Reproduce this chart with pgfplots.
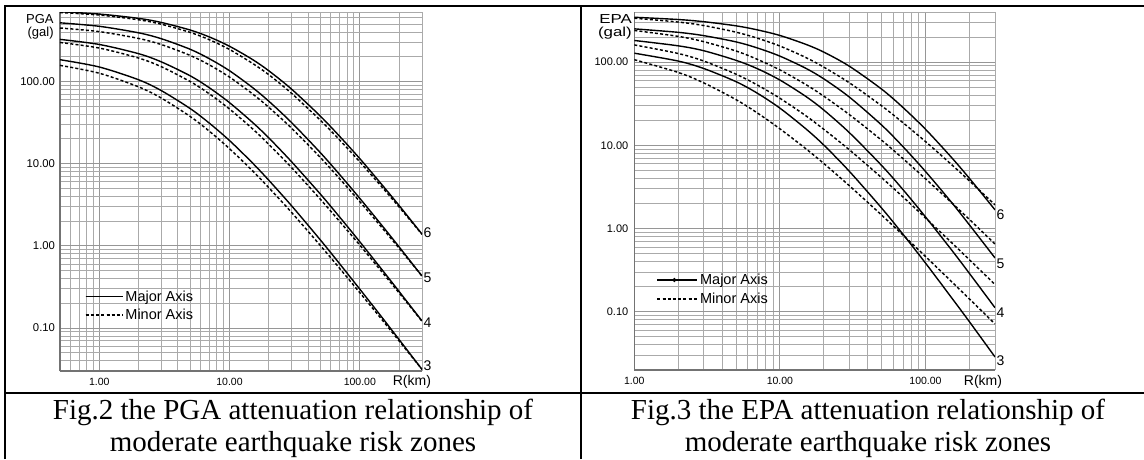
\documentclass[border=0pt]{standalone}
\usepackage{fontspec}
\setmainfont{Liberation Serif}
\newfontfamily\arialf{Liberation Sans}
\usepackage{pgfplots}
\usepackage{pgfplotstable}
\pgfplotsset{compat=1.18}
\definecolor{gridmaj}{RGB}{150,150,150}
\definecolor{gridmin}{RGB}{170,170,170}
\definecolor{axl}{RGB}{115,115,115}

\pgfplotstableread{
R s6 d6 s5 d5 s4 d4 s3 d3
0.5 705 690 517 447 325 298 184 157
1 661 643 469 404 282 255 150 126
2 586 563 391 334 218 193 105 86.1
3 522 497 331 281 173 151 77.3 62.7
5 422 395 246 207 117 99.6 46.7 37.4
7 348 322 189 159 83.8 70.7 31.1 24.8
10 268 245 135 113 55.2 46.2 19.1 15.2
15 185 166 84.4 70.7 31.8 26.6 10.2 8.20
20 135 121 57.6 48.5 20.6 17.2 6.29 5.11
30 80.4 71.4 31.5 26.9 10.5 8.92 3.06 2.54
50 37.6 33.5 13.5 11.8 4.23 3.66 1.17 1.00
70 21.5 19.4 7.37 6.56 2.24 1.98 0.605 0.532
100 11.5 10.5 3.78 3.45 1.12 1.02 0.297 0.269
150 5.39 5.06 1.72 1.62 0.499 0.468 0.131 0.123
200 3.10 2.97 0.973 0.938 0.279 0.268 0.0725 0.0698
300 1.39 1.38 0.429 0.429 0.122 0.121 0.0314 0.0314
}\pgatab

\pgfplotstableread{
R s6 d6 s5 d5 s4 d4 s3 d3
1 346 337 251 240 182 161 128 107
2 325 303 228 204 157 127 103 75.2
3 306 275 208 176 137 103 83.8 56.3
5 273 229 175 136 105 71.6 58.2 35.4
7 244 194 148 108 83.4 53.1 42.3 24.5
10 209 156 118 80.6 60.9 36.8 28.0 15.8
15 164 114 84.6 54.0 38.9 22.8 15.9 9.17
20 132 87.1 63.0 39.0 26.6 15.6 10.1 6.06
30 89.2 56.4 38.0 23.4 14.2 8.84 4.87 3.27
50 47.3 29.8 17.5 11.5 5.72 4.08 1.76 1.45
70 28.5 18.7 9.65 6.93 2.94 2.40 0.855 0.838
100 15.6 11.1 4.85 3.97 1.38 1.34 0.385 0.462
150 7.23 5.93 2.09 2.07 0.562 0.686 0.150 0.233
200 4.02 3.75 1.11 1.29 0.290 0.423 0.0762 0.143
300 1.68 1.93 0.444 0.653 0.112 0.213 0.0287 0.0715
}\epatab

\tikzset{
  maj/.style={black, line width=1.4pt, smooth},
  mnr/.style={black, line width=1.45pt, dash pattern=on 3pt off 2.2pt, smooth},
  lab/.style={anchor=west, inner sep=1.5pt, font=\arialf\fontsize{14}{16}\selectfont},
}

\begin{document}
\begin{tikzpicture}
\useasboundingbox (0pt,0pt) rectangle (1144pt,459pt);

% ---------- left panel: PGA ----------
\begin{axis}[
  scale only axis, clip mode=individual,
  xmode=log, ymode=log,
  at={(60pt,88pt)}, anchor=south west,
  width=362pt, height=359pt,
  xmin=0.5, xmax=300, ymin=0.03, ymax=700,
  axis x line*=bottom, axis y line*=left,
  axis line style={-, draw=axl, line width=1.2pt},
  grid=both,
  major grid style={draw=gridmaj, line width=0.9pt},
  minor grid style={draw=gridmin, line width=0.9pt},
  major tick length=0pt, minor tick length=0pt,
  yticklabel style={font=\arialf\fontsize{11.3}{12}\selectfont, xshift=-1.5pt},
  xticklabel style={font=\arialf\fontsize{10.5}{12}\selectfont, yshift=-3.5pt},
  ytick={0.1,1,10,100}, yticklabels={0.10,1.00,10.00,100.00},
  xtick={1,10,100}, xticklabels={1.00,10.00,100.00},
  minor xtick={0.5,0.6,0.7,0.8,0.9,2,3,4,5,6,7,8,9,20,30,40,50,60,70,80,90,200,300},
  minor ytick={0.03,0.04,0.05,0.06,0.07,0.08,0.09,0.2,0.3,0.4,0.5,0.6,0.7,0.8,0.9,2,3,4,5,6,7,8,9,20,30,40,50,60,70,80,90,200,300,400,500,600,700},
  legend style={draw=none, fill=none, inner sep=0pt, outer sep=0pt,
    font=\arialf\fontsize{14.5}{16}\selectfont, row sep=2.5pt,
    at={(axis description cs:0.069,0.2296)}, anchor=north west},
  legend cell align=left,
  legend image code/.code={\draw[#1] (0pt,0pt) -- (32pt,0pt); \path (0pt,0pt) -- (37pt,0pt);},
]
\addplot[maj] table[x=R,y=s6] {\pgatab}; \addlegendentry{Major Axis}
\addplot[mnr] table[x=R,y=d6] {\pgatab}; \addlegendentry{Minor Axis}
\addplot[maj, forget plot] table[x=R,y=s5] {\pgatab};
\addplot[mnr, forget plot] table[x=R,y=d5] {\pgatab};
\addplot[maj, forget plot] table[x=R,y=s4] {\pgatab};
\addplot[mnr, forget plot] table[x=R,y=d4] {\pgatab};
\addplot[maj, forget plot] table[x=R,y=s3] {\pgatab};
\addplot[mnr, forget plot] table[x=R,y=d3] {\pgatab};
\node[lab] at (axis cs:300,1.43) {6};
\node[lab] at (axis cs:300,0.406) {5};
\node[lab] at (axis cs:300,0.115) {4};
\node[lab] at (axis cs:300,0.0351) {3};
\node[anchor=north east, align=right, inner sep=0pt, font=\arialf\fontsize{13}{12.5}\selectfont]
  at (axis description cs:-0.017,0.993) {PGA\\(gal)};
\node[font=\arialf\fontsize{14}{16}\selectfont] at (axis description cs:0.972,-0.031) {R(km)};
\end{axis}

% ---------- right panel: EPA ----------
\begin{axis}[
  scale only axis, clip mode=individual,
  xmode=log, ymode=log,
  at={(634.3pt,89pt)}, anchor=south west,
  width=360.7pt, height=358pt,
  xmin=1, xmax=300, ymin=0.02, ymax=400,
  axis x line*=bottom, axis y line*=left,
  axis line style={-, draw=axl, line width=1.2pt},
  grid=both,
  major grid style={draw=gridmaj, line width=0.9pt},
  minor grid style={draw=gridmin, line width=0.9pt},
  major tick length=0pt, minor tick length=0pt,
  yticklabel style={font=\arialf\fontsize{11}{12}\selectfont, xshift=-2.5pt},
  xticklabel style={font=\arialf\fontsize{10.5}{12}\selectfont, yshift=-3.5pt},
  ytick={0.1,1,10,100}, yticklabels={0.10,1.00,10.00,100.00},
  xtick={1,10,100}, xticklabels={1.00,10.00,100.00},
  minor xtick={2,3,4,5,6,7,8,9,20,30,40,50,60,70,80,90,200,300},
  minor ytick={0.02,0.03,0.04,0.05,0.06,0.07,0.08,0.09,0.2,0.3,0.4,0.5,0.6,0.7,0.8,0.9,2,3,4,5,6,7,8,9,20,30,40,50,60,70,80,90,200,300,400},
  legend style={draw=none, fill=none, inner sep=0pt, outer sep=0pt,
    font=\arialf\fontsize{14.5}{16}\selectfont, row sep=3pt,
    at={(axis description cs:0.062,0.2738)}, anchor=north west},
  legend cell align=left,
  legend image code/.code={\draw[#1] (0pt,0pt) -- (34pt,0pt); \path (0pt,0pt) -- (40pt,0pt);},
]
\addplot[maj, legend image code/.code={\draw[black, line width=1.4pt] (0pt,0pt) -- (34pt,0pt); \fill[black] (17pt,0pt) circle (1.3pt); \path (0pt,0pt) -- (40pt,0pt);}] table[x=R,y=s6] {\epatab}; \addlegendentry{Major Axis}
\addplot[mnr] table[x=R,y=d6] {\epatab}; \addlegendentry{Minor Axis}
\addplot[maj, forget plot] table[x=R,y=s5] {\epatab};
\addplot[mnr, forget plot] table[x=R,y=d5] {\epatab};
\addplot[maj, forget plot] table[x=R,y=s4] {\epatab};
\addplot[mnr, forget plot] table[x=R,y=d4] {\epatab};
\addplot[maj, forget plot] table[x=R,y=s3] {\epatab};
\addplot[mnr, forget plot] table[x=R,y=d3] {\epatab};
\node[lab] at (axis cs:300,1.45) {6};
\node[lab] at (axis cs:300,0.383) {5};
\node[lab] at (axis cs:300,0.0966) {4};
\node[lab] at (axis cs:300,0.026) {3};
\node[anchor=north east, align=right, inner sep=0pt, xscale=1.3, font=\arialf\fontsize{13}{12.5}\selectfont]
  at (axis description cs:-0.006,0.993) {EPA\\(gal)};
\node[font=\arialf\fontsize{14}{16}\selectfont] at (axis description cs:0.9667,-0.0335) {R(km)};
\end{axis}

% ---------- frame ----------
\draw[line width=2pt] (4pt,452.5pt) -- (1144pt,452.5pt);
\draw[line width=2pt] (5pt,0pt) -- (5pt,453.5pt);
\draw[line width=2pt] (581pt,0pt) -- (581pt,453.5pt);
\draw[line width=2pt] (4pt,66.5pt) -- (1144pt,66.5pt);

% ---------- captions ----------
\node[anchor=base, inner sep=0pt, font=\fontsize{29}{30}\selectfont] at (293pt,39.7pt) {Fig.2 the PGA attenuation relationship of};
\node[anchor=base, inner sep=0pt, font=\fontsize{29}{30}\selectfont] at (293pt,7.3pt) {moderate earthquake risk zones};
\node[anchor=base, inner sep=0pt, font=\fontsize{29}{30}\selectfont] at (868pt,39.7pt) {Fig.3 the EPA attenuation relationship of};
\node[anchor=base, inner sep=0pt, font=\fontsize{29}{30}\selectfont] at (868pt,7.3pt) {moderate earthquake risk zones};
\end{tikzpicture}
\end{document}
